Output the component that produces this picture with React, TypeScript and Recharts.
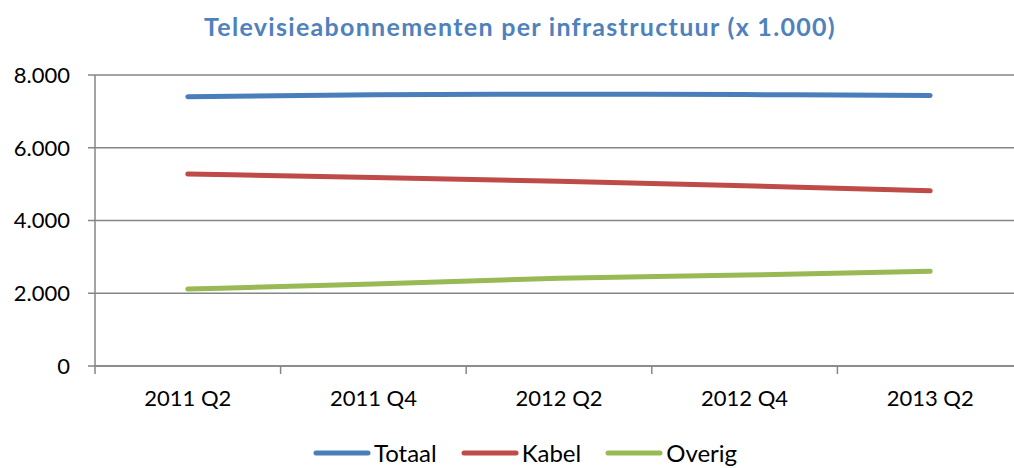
import { LineChart, Line, XAxis, YAxis, CartesianGrid, Legend } from 'recharts';

const periods = ['2011 Q2', '2011 Q4', '2012 Q2', '2012 Q4', '2013 Q2'];
const totaal = [7400, 7455, 7470, 7462, 7438];
const kabel = [5275, 5185, 5080, 4955, 4815];
const overig = [2115, 2255, 2410, 2500, 2602];
const yTicks = [0, 2000, 4000, 6000, 8000];

const series = [
  { key: 'Totaal', color: '#4A7EBB' },
  { key: 'Kabel', color: '#BE4B48' },
  { key: 'Overig', color: '#98B954' }
];

// x runs 0..n, each period sits in the middle of its slot
const data = periods.map((p, i) => ({
  pos: i + 0.5,
  label: p,
  Totaal: totaal[i],
  Kabel: kabel[i],
  Overig: overig[i]
}));

const xTicks: number[] = [];
for (let i = 0; i <= periods.length * 2; i++) xTicks.push(i / 2);

const FONT = 'Lato, "Open Sans", sans-serif';
const GRID = '#868686';

const fmt = (v: number) =>
  v === 0 ? '0' : `${Math.floor(v / 1000)}.${String(v % 1000).padStart(3, '0')}`;

function XTick(props: any) {
  const { x, y, payload } = props;
  const v = payload.value as number;
  if (Number.isInteger(v)) {
    return <line x1={x} x2={x} y1={y} y2={y + 8} stroke={GRID} strokeWidth={1.5} />;
  }
  return (
    <text x={x} y={y + 40} textAnchor="middle" fontSize={22} fontFamily={FONT} fill="#000">
      {periods[Math.floor(v)]}
    </text>
  );
}

function LegendContent(props: any) {
  const items = [...(props.payload || [])].sort(
    (a: any, b: any) =>
      series.findIndex((s) => s.key === a.value) - series.findIndex((s) => s.key === b.value)
  );
  return (
    <div
      style={{
        display: 'flex',
        justifyContent: 'center',
        alignItems: 'center',
        gap: 24,
        height: 30,
        paddingLeft: 27,
        fontFamily: FONT,
        fontSize: 24,
        lineHeight: 1
      }}
    >
      {items.map((it: any) => (
        <div key={it.value} style={{ display: 'flex', alignItems: 'center' }}>
          <svg width={58} height={10}>
            <line x1={3} x2={55} y1={5} y2={5} stroke={it.color} strokeWidth={5} strokeLinecap="round" />
          </svg>
          <span style={{ marginLeft: 3, color: '#000' }}>{it.value}</span>
        </div>
      ))}
    </div>
  );
}

export default function App() {
  return (
    <div style={{ position: 'fixed', left: 0, top: 0, width: 1014, height: 468, overflow: 'hidden', background: '#fff' }}>
      <div
        style={{
          position: 'absolute',
          top: 11,
          left: 0,
          width: 1040,
          textAlign: 'center',
          fontFamily: FONT,
          fontWeight: 'bold',
          fontSize: 25,
          letterSpacing: 1.3,
          color: '#4F81BD'
        }}
      >
        Televisieabonnementen per infrastructuur (x 1.000)
      </div>
      <LineChart width={1040} height={468} data={data} margin={{ top: 75, right: 17, bottom: 0, left: 0 }}>
        <CartesianGrid vertical={false} stroke={GRID} strokeWidth={1.5} />
        <XAxis
          dataKey="pos"
          type="number"
          domain={[0, periods.length]}
          ticks={xTicks}
          interval={0}
          tickLine={false}
          tickSize={0}
          tickMargin={0}
          tick={<XTick />}
          axisLine={{ stroke: GRID, strokeWidth: 1.5 }}
          height={72}
        />
        <YAxis
          domain={[0, 8000]}
          ticks={yTicks}
          tickFormatter={fmt}
          width={95}
          tickSize={7}
          tickMargin={18}
          tickLine={{ stroke: GRID, strokeWidth: 1.5 }}
          axisLine={{ stroke: GRID, strokeWidth: 1.5 }}
          tick={{ fill: '#000', fontSize: 22, fontFamily: FONT }}
        />
        <Legend verticalAlign="bottom" height={30} content={<LegendContent />} />
        {series.map((s) => (
          <Line
            key={s.key}
            dataKey={s.key}
            type="monotone"
            stroke={s.color}
            strokeWidth={5}
            strokeLinecap="round"
            dot={false}
            activeDot={false}
            isAnimationActive={false}
          />
        ))}
      </LineChart>
    </div>
  );
}
